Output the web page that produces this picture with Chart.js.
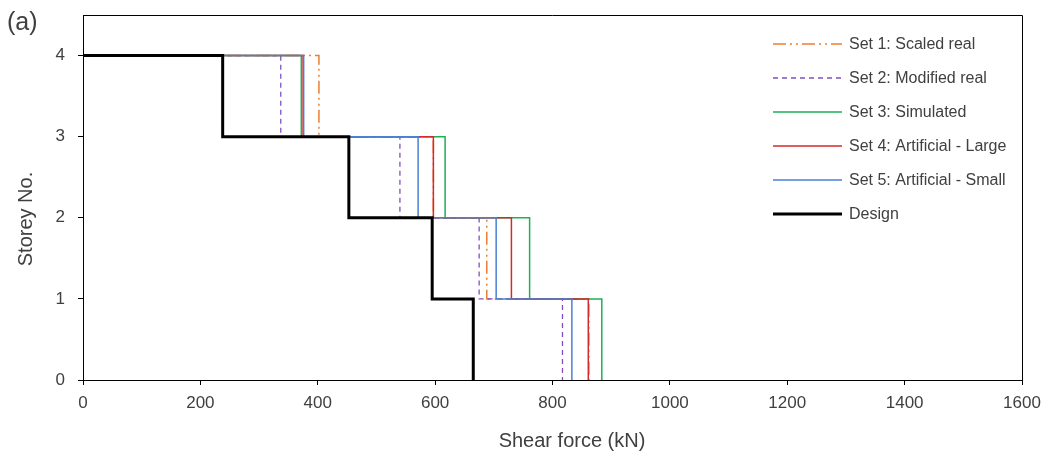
<!DOCTYPE html>
<html>
<head>
<meta charset="utf-8">
<title>Storey shear</title>
<script src="https://cdn.jsdelivr.net/npm/chart.js@4/dist/chart.umd.min.js"></script>
<style>
  html, body { margin: 0; padding: 0; background: #fff; }
  #wrap { width: 1047px; height: 452px; position: relative; }
</style>
</head>
<body>
<div id="wrap"><canvas id="shearChart"></canvas></div>
<script>
// storey shear (kN), listed storey 1 -> 4
const storeys = [1, 2, 3, 4]
const setLabels = ['Set 1: Scaled real', 'Set 2: Modified real', 'Set 3: Simulated',
  'Set 4: Artificial - Large', 'Set 5: Artificial - Small', 'Design']
const scaledReal = [862, 688, 597, 402]
const modifiedReal = [817, 675, 540, 337]
const simulated = [884, 761, 617, 372]
const artificialLarge = [861, 730, 597, 375]
const artificialSmall = [833, 704, 571, 376]
const design = [665, 595, 453, 238]
const xTicks = [0, 200, 400, 600, 800, 1000, 1200, 1400, 1600]
const yTicks = [0, 1, 2, 3, 4]

const FONT = '"Liberation Sans", Arial, sans-serif'
const TEXT = '#404040'

// turn the shear per storey into a staircase, top storey first
function steps (values) {
  let pts = [{ x: 0, y: storeys[storeys.length - 1] }]
  for (let i = storeys.length - 1; i >= 0; i--) {
    pts.push({ x: values[i], y: storeys[i] })
    pts.push({ x: values[i], y: storeys[i] - 1 })
  }
  return pts
}

function series (idx, values, color, width, dash, order) {
  return {
    label: setLabels[idx],
    data: steps(values),
    borderColor: color,
    backgroundColor: color,
    borderWidth: width,
    borderDash: dash,
    pointRadius: 0,
    showLine: true,
    fill: false,
    order: order
  }
}

// frame, legend and text drawn straight on the canvas
const extras = {
  id: 'extras',
  beforeDatasetsDraw (chart) {
    const { ctx, chartArea: a } = chart
    ctx.save()
    ctx.strokeStyle = '#000'
    ctx.lineWidth = 1
    ctx.beginPath()
    ctx.moveTo(a.left, a.top + 0.5)
    ctx.lineTo(a.right + 0.5, a.top + 0.5)
    ctx.lineTo(a.right + 0.5, a.bottom)
    ctx.stroke()
    ctx.restore()
  },
  afterDraw (chart) {
    const ctx = chart.ctx
    ctx.save()
    // legend
    const sets = chart.data.datasets
    ctx.font = '16px ' + FONT
    ctx.textBaseline = 'middle'
    ctx.fillStyle = TEXT
    sets.forEach((ds, i) => {
      const y = 44 + i * 34
      ctx.strokeStyle = ds.borderColor
      ctx.lineWidth = ds.borderWidth
      ctx.setLineDash(ds.borderDash || [])
      ctx.beginPath()
      ctx.moveTo(773, y)
      ctx.lineTo(842, y)
      ctx.stroke()
      ctx.setLineDash([])
      ctx.fillText(ds.label, 849, y + 1)
    })
    // axis titles
    ctx.font = '20px ' + FONT
    ctx.textAlign = 'center'
    ctx.fillText('Shear force (kN)', 572, 441)
    ctx.translate(26, 219)
    ctx.rotate(-Math.PI / 2)
    ctx.fillText('Storey No.', 0, 0)
    ctx.restore()
    ctx.save()
    ctx.font = '25px ' + FONT
    ctx.fillStyle = TEXT
    ctx.textBaseline = 'middle'
    ctx.fillText('(a)', 7, 23)
    ctx.restore()
  }
}

const datasets = [
  series(0, scaledReal, '#ED7D31', 1.5, [13, 4, 2, 4, 2, 4], 5),
  series(1, modifiedReal, '#8050C0', 1.3, [5, 4], 4),
  series(2, simulated, '#1DB055', 1.5, [], 3),
  series(3, artificialLarge, '#D42A2A', 1.5, [], 2),
  series(4, artificialSmall, '#4A80D2', 1.5, [], 1),
  series(5, design, '#000000', 3, [], 0)
]

new Chart(document.getElementById('shearChart'), {
  type: 'scatter',
  data: { datasets: datasets },
  plugins: [extras],
  options: {
    responsive: true,
    maintainAspectRatio: false,
    animation: false,
    layout: { padding: { left: 0, top: 15, right: 25, bottom: 32 } },
    plugins: {
      legend: { display: false },
      tooltip: { enabled: false }
    },
    scales: {
      x: {
        type: 'linear',
        min: xTicks[0],
        max: xTicks[xTicks.length - 1],
        afterBuildTicks: s => { s.ticks = xTicks.map(v => ({ value: v })) },
        afterFit: s => { s.height = 40; s.paddingLeft = 0; s.paddingRight = 0 },
        grid: { display: true, drawOnChartArea: false, drawTicks: true, tickLength: 5, color: '#000' },
        border: { display: true, color: '#000', width: 1 },
        ticks: { color: TEXT, font: { family: FONT, size: 17 }, padding: 8, maxRotation: 0, callback: v => String(v) }
      },
      y: {
        type: 'linear',
        min: 0,
        max: 4.5,
        afterBuildTicks: s => { s.ticks = yTicks.map(v => ({ value: v })) },
        afterFit: s => { s.width = 83; s.paddingTop = 0; s.paddingBottom = 0 },
        grid: { display: true, drawOnChartArea: false, drawTicks: true, tickLength: 5, color: '#000' },
        border: { display: true, color: '#000', width: 1 },
        ticks: { color: TEXT, font: { family: FONT, size: 17 }, padding: 13, callback: v => String(v) }
      }
    }
  }
})
</script>
</body>
</html>
